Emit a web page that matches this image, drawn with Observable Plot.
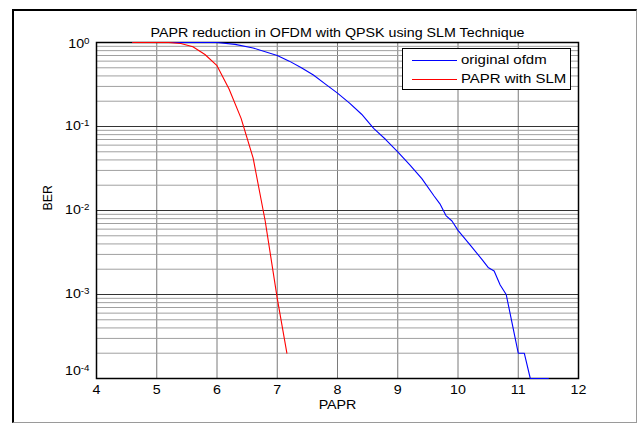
<!DOCTYPE html>
<html>
<head>
<meta charset="utf-8">
<script src="https://cdn.jsdelivr.net/npm/d3@7"></script>
<script src="https://cdn.jsdelivr.net/npm/@observablehq/plot@0.6"></script>
<style>
  html, body { margin: 0; padding: 0; background: white; }
  #wrap { position: relative; width: 639px; height: 424px; overflow: hidden; font-family: "Liberation Sans", Arial, sans-serif; }
  #frame { position: absolute; left: 12px; top: 9px; width: 625px; height: 414px; box-sizing: border-box;
           border-left: 2px solid #000; border-top: 2px solid #000; border-right: 1px solid #9a9a9a; border-bottom: 1px solid #9a9a9a; pointer-events: none; }
  #legend { position: absolute; left: 402px; top: 48px; width: 169px; height: 42px; box-sizing: border-box;
            border: 1px solid #000; background: white; font-size: 13px; color: #000; }
  .lrow { position: absolute; left: 0; height: 14px; width: 100%; }
  .lline { position: absolute; left: 9px; width: 45px; height: 0; top: 7px; }
  .ltext { position: absolute; left: 58px; top: -1px; line-height: 16px; white-space: nowrap; transform: scaleX(1.15); transform-origin: 0 50%; }
  svg text { font-family: "Liberation Sans", Arial, sans-serif; }
</style>
</head>
<body>
<div id="wrap"></div>
<script>
// ---- data ----
const titleText = "PAPR reduction in OFDM with QPSK using SLM Technique";
const xLabel = "PAPR";
const yLabel = "BER";
const seriesNames = ["original ofdm", "PAPR with SLM"];
const seriesColors = ["#0000ff", "#ff0000"];

const ofdmX = [4.6, 6.0, 6.3, 6.6, 7.0, 7.2, 7.4, 7.6, 7.8, 8.0, 8.2, 8.4, 8.6, 8.8, 9.0, 9.2, 9.4, 9.6, 9.7, 9.8, 9.9, 10.0, 10.2, 10.4, 10.5, 10.6, 10.7, 10.8, 11.0, 11.1, 11.2, 11.5];
const ofdmY = [1, 1, 0.95, 0.86, 0.70, 0.60, 0.50, 0.41, 0.32, 0.25, 0.19, 0.14, 0.095, 0.07, 0.05, 0.035, 0.024, 0.015, 0.012, 0.0087, 0.0075, 0.0058, 0.0039, 0.0026, 0.0021, 0.0019, 0.0013, 0.001, 0.0002, 0.0002, 0.0001, 0.0001];

const slmX = [4.6, 5.2, 5.4, 5.6, 5.8, 6.0, 6.2, 6.4, 6.6, 6.8, 7.0, 7.16];
const slmY = [1, 1, 0.975, 0.89, 0.72, 0.53, 0.28, 0.125, 0.042, 0.0075, 0.0009, 0.0002];

const xTicks = [4, 5, 6, 7, 8, 9, 10, 11, 12];
const yDecades = [1e-4, 1e-3, 1e-2, 1e-1, 1];
const yExponents = ["-4", "-3", "-2", "-1", "0"];
const minorMultipliers = [2, 3, 4, 5, 6, 7, 8, 9];

// ---- build tables ----
const ofdm = ofdmX.map((x, i) => ({x, y: ofdmY[i]}));
const slm = slmX.map((x, i) => ({x, y: slmY[i]}));
const yMinor = [];
yDecades.slice(0, -1).forEach(d => minorMultipliers.forEach(m => yMinor.push(d * m)));

const FS_LABEL = 12.4;
const FS_TICK = 12.4;
const STRETCH = 1.15;

const plot = Plot.plot({
  width: 639,
  height: 424,
  marginLeft: 96,
  marginRight: 61,
  marginTop: 42,
  marginBottom: 46,
  style: { background: "transparent", color: "#000" },
  x: { domain: [4, 12] },
  y: { type: "log", domain: [1e-4, 1] },
  marks: [
    Plot.ruleX(xTicks.slice(1, -1), { stroke: "#7a7a7a", strokeWidth: 1 }),
    Plot.ruleY(yMinor, { stroke: "#a0a0a0", strokeWidth: 1 }),
    Plot.ruleY(yDecades, { stroke: "#333", strokeWidth: 1 }),
    Plot.frame({ stroke: "#000", strokeWidth: 1.5 }),
    Plot.line(ofdm, { x: "x", y: "y", stroke: seriesColors[0], strokeWidth: 1.1 }),
    Plot.line(slm, { x: "x", y: "y", stroke: seriesColors[1], strokeWidth: 1.1 }),
    Plot.axisX({ ticks: xTicks, tickSize: 0, tickPadding: 7, tickFormat: d => String(d), label: null, fill: "#000" }),
    Plot.axisY({ ticks: yDecades, tickSize: 0, tickPadding: 7, tickFormat: d => yExponents[yDecades.indexOf(d)], label: null, fill: "#000" }),
    Plot.text([titleText], { frameAnchor: "top", dy: -14.5, text: d => d, fill: "#000", className: "lbl" }),
    Plot.text([xLabel], { frameAnchor: "bottom", dy: 30, text: d => d, fill: "#000", className: "lbl" }),
    Plot.text([yLabel], { frameAnchor: "left", dx: -48, rotate: -90, text: d => d, fill: "#000", className: "lbl" })
  ]
});

const svg = d3.select(plot);
svg.selectAll("text").style("font-family", "'Liberation Sans', Arial, sans-serif").style("font-size", FS_TICK + "px");
svg.selectAll(".lbl text").style("font-size", FS_LABEL + "px");

// superscript exponents on y tick labels
svg.selectAll("g[aria-label='y-axis tick label'] text").each(function() {
  const t = d3.select(this);
  const exp = t.text();
  t.text(null);
  t.append("tspan").text("10");
  t.append("tspan").attr("dy", "-0.55em").style("font-size", "8.5px").text(exp);
  if (exp === "-4") t.attr("transform", (t.attr("transform") || "") + " translate(0,-7)");
  if (exp === "0") t.attr("transform", (t.attr("transform") || "") + " translate(0,2)");
});

const wrap = document.getElementById("wrap");
plot.style.position = "absolute";
plot.style.left = "0px";
plot.style.top = "0px";
wrap.appendChild(plot);

// the reference figure is horizontally stretched: widen the horizontal texts to match
svg.selectAll("text").each(function() {
  if (this.textContent === yLabel) return;
  const L = this.getComputedTextLength();
  if (L > 0) {
    this.setAttribute("textLength", (L * STRETCH).toFixed(2));
    this.setAttribute("lengthAdjust", "spacingAndGlyphs");
  }
});

// legend
const legend = document.createElement("div");
legend.id = "legend";
seriesNames.forEach((name, i) => {
  const row = document.createElement("div");
  row.className = "lrow";
  row.style.top = (4 + i * 18.5) + "px";
  const ln = document.createElement("div");
  ln.className = "lline";
  ln.style.borderTop = "1px solid " + seriesColors[i];
  const tx = document.createElement("div");
  tx.className = "ltext";
  tx.textContent = name;
  row.appendChild(ln);
  row.appendChild(tx);
  legend.appendChild(row);
});
wrap.appendChild(legend);

const frame = document.createElement("div");
frame.id = "frame";
wrap.appendChild(frame);
</script>
</body>
</html>
